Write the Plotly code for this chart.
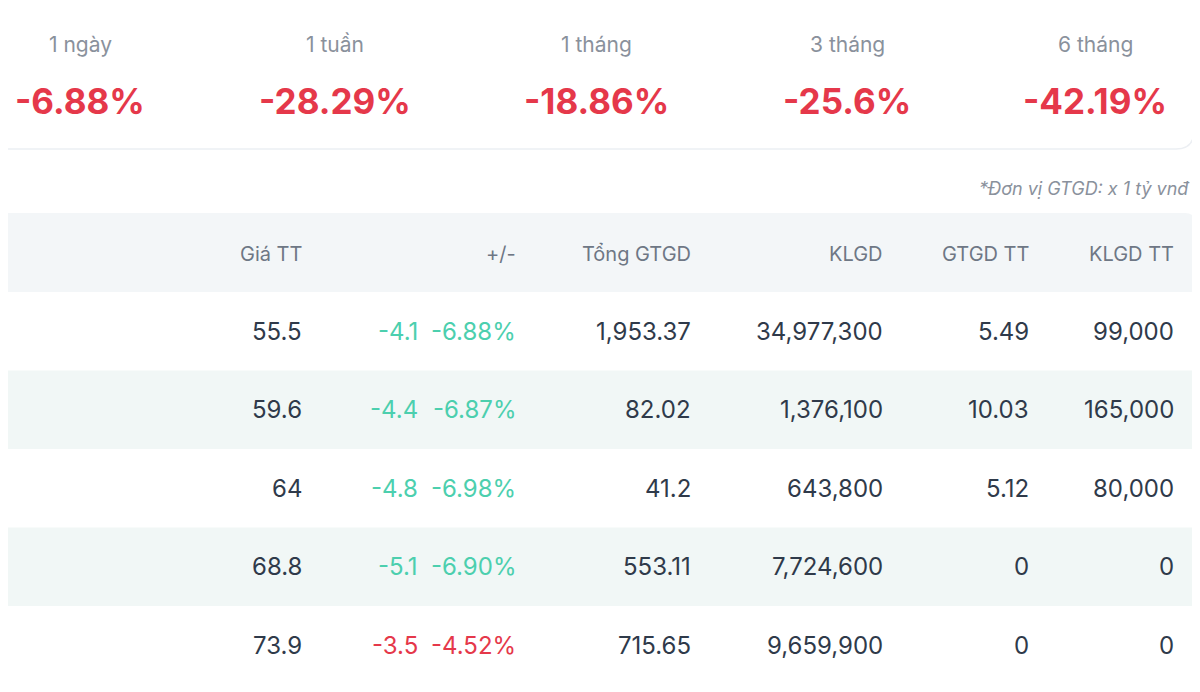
import plotly.graph_objects as go

periods = ["1 ngày", "1 tuần", "1 tháng", "3 tháng", "6 tháng"]
period_changes = ["-6.88%", "-28.29%", "-18.86%", "-25.6%", "-42.19%"]
headers = ["THỜI GIAN", "Giá TT", "+/-", "Tổng GTGD", "KLGD", "GTGD TT", "KLGD TT"]
dates = ["20/03/2026", "19/03/2026", "18/03/2026", "17/03/2026", "16/03/2026"]
prices = ["55.5", "59.6", "64", "68.8", "73.9"]
changes = ["-4.1", "-4.4", "-4.8", "-5.1", "-3.5"]
pcts = ["-6.88%", "-6.87%", "-6.98%", "-6.90%", "-4.52%"]
ceiling_floor = ["floor", "floor", "floor", "floor", "down"]
total_value = ["1,953.37", "82.02", "41.2", "553.11", "715.65"]
volume = ["34,977,300", "1,376,100", "643,800", "7,724,600", "9,659,900"]
deal_value = ["5.49", "10.03", "5.12", "0", "0"]
deal_volume = ["99,000", "165,000", "80,000", "0", "0"]

RED = "#e5384a"; TEAL = "#4ccfae"; TXT = "#2f3a4a"; GRAY = "#6e7785"
FONT = "Inter"

fig = go.Figure()
shapes, ann = [], []

def path_round(x0, y0, x1, y1, r):
    return (f"M{x0+r},{y0} L{x1-r},{y0} Q{x1},{y0} {x1},{y0+r} L{x1},{y1-r} Q{x1},{y1} {x1-r},{y1} "
            f"L{x0+r},{y1} Q{x0},{y1} {x0},{y1-r} L{x0},{y0+r} Q{x0},{y0} {x0+r},{y0} Z")

shapes.append(dict(type="path", path=path_round(-30, -30, 1196, 149, 18), fillcolor="white",
                   line=dict(color="#eceff3", width=1.5), layer="below"))
centers = [82, 337, 598, 849, 1097]
for c, p, v in zip(centers, periods, period_changes):
    ann.append(dict(x=c, y=44, text=p, font=dict(size=21, color="#8a919c", family=FONT), showarrow=False))
    ann.append(dict(x=c, y=101, text=f"<b>{v}</b>", font=dict(size=35, color=RED, family=FONT), showarrow=False))

ann.append(dict(x=1194, y=188, text="<i>*Đơn vị GTGD: x 1 tỷ vnđ</i>", xanchor="right",
                font=dict(size=18, color="#8a919c", family=FONT), showarrow=False))

shapes.append(dict(type="path", path=path_round(-30, 213, 1197, 310, 10), fillcolor="#f3f6f8", line=dict(width=0), layer="below"))
row_h = 78.5; top = 292
for i in range(len(dates)):
    y0 = top + i * row_h
    shapes.append(dict(type="rect", x0=-30, x1=1210, y0=y0, y1=y0 + row_h,
                       fillcolor="white" if i % 2 == 0 else "#f1f7f6", line=dict(width=0), layer="below"))

hx = [8, 306, 520, 695, 887, 1033, 1178]
for j, h in enumerate(headers):
    ann.append(dict(x=hx[j], y=254, text=h, xanchor="left" if j == 0 else "right",
                    font=dict(size=20, color=GRAY, family=FONT), showarrow=False))

for i in range(len(dates)):
    y = top + i * row_h + row_h / 2
    col = TEAL if ceiling_floor[i] == "floor" else RED
    cells = [(8, dates[i], "left", TXT), (306, prices[i], "right", TXT), (422, changes[i], "right", col),
             (520, pcts[i], "right", col), (695, total_value[i], "right", TXT), (887, volume[i], "right", TXT),
             (1033, deal_value[i], "right", TXT), (1178, deal_volume[i], "right", TXT)]
    for x, t, a, c in cells:
        ann.append(dict(x=x, y=y, text=t, xanchor=a, font=dict(size=24, color=c, family=FONT), showarrow=False))

fig.update_layout(width=1200, height=692, margin=dict(l=0, r=0, t=0, b=0),
                  paper_bgcolor="white", plot_bgcolor="white", shapes=shapes, annotations=ann,
                  xaxis=dict(range=[10, 1210], visible=False, fixedrange=True),
                  yaxis=dict(range=[700, 8], visible=False, fixedrange=True), showlegend=False)
fig.write_html("out.html")
